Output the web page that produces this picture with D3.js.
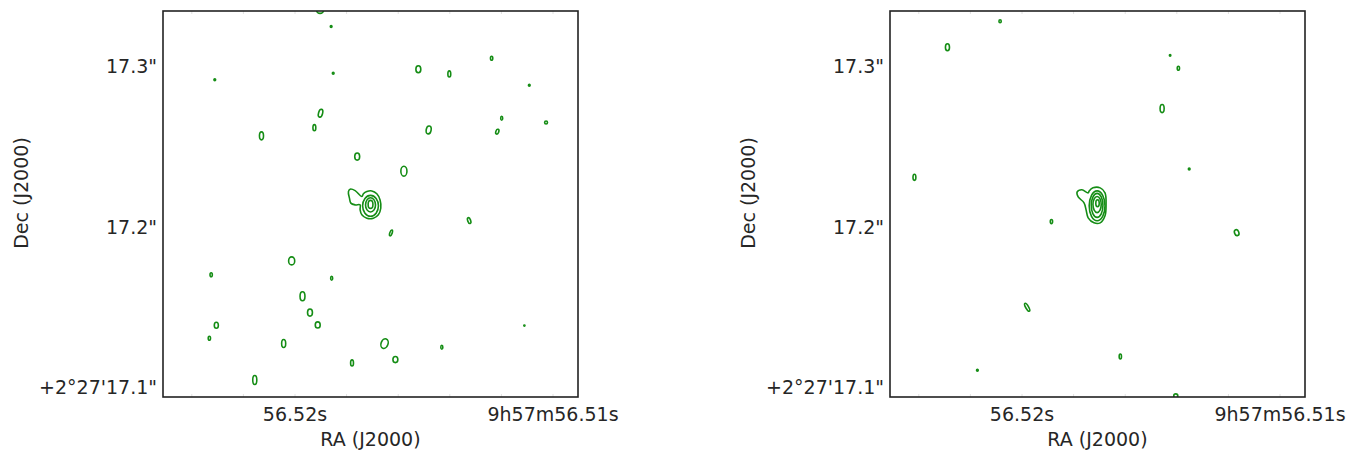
<!DOCTYPE html>
<html><head><meta charset="utf-8">
<script src="https://cdn.jsdelivr.net/npm/d3@7"></script>
<style>
body{margin:0;background:#fff}
svg text{font-family:"DejaVu Sans",sans-serif;fill:#262626}
</style>
</head><body>
<svg id="chart" width="1349" height="453"></svg>
<script>
// ---------------- data ----------------
const raTicks = [56.52, 56.51];
const raTickLabels = ["56.52s", "9h57m56.51s"];
const raMinorStep = 0.002;               // unlabelled RA ticks (s)
const decTicks = [17.3, 17.2, 17.1];
const decTickLabels = ["17.3\"", "17.2\"", "+2°27'17.1\""];
const raExtent = [56.525097, 56.509012]; // RA seconds (9h57m), left→right
const decExtent = [17.0931, 17.3336];    // Dec arcsec (+2°27'), bottom→top
const xTitle = "RA (J2000)";
const yTitle = "Dec (J2000)";

// compact contours: [ra (s), dec ("), semi-axis E-W (mas), semi-axis N-S (mas), tilt (deg)]
const leftSources = [
  [56.51901, 17.3343, 2.1, 2.2, 0],
  [56.51858, 17.3239, 0.5, 0.6, 0],
  [56.52309, 17.2907, 0.5, 0.6, 0],
  [56.51850, 17.2948, 0.5, 0.6, 0],
  [56.51520, 17.2973, 1.43, 2.2, 0],
  [56.51400, 17.2944, 0.84, 1.9, 0],
  [56.51236, 17.3042, 0.67, 1.25, 0],
  [56.51090, 17.2873, 0.5, 0.6, 0],
  [56.51899, 17.2699, 1.18, 2.5, 15],
  [56.51923, 17.2609, 0.84, 1.9, 0],
  [56.52128, 17.2558, 1.18, 2.5, 0],
  [56.51197, 17.2668, 0.59, 1.25, 0],
  [56.51214, 17.2584, 0.84, 1.55, 20],
  [56.51025, 17.2641, 0.84, 0.95, 0],
  [56.51480, 17.2595, 1.43, 2.5, 10],
  [56.51757, 17.2429, 1.43, 2.2, 0],
  [56.51576, 17.2338, 1.77, 3.1, 0],
  [56.51323, 17.2030, 0.84, 1.9, -20],
  [56.51626, 17.1953, 0.67, 1.9, 20],
  [56.52011, 17.1779, 1.77, 2.5, 0],
  [56.52323, 17.1693, 0.67, 1.25, 0],
  [56.51856, 17.1671, 0.59, 1.25, 0],
  [56.51969, 17.1559, 1.43, 2.8, 0],
  [56.51940, 17.1457, 1.43, 2.2, 0],
  [56.51910, 17.1380, 1.43, 1.9, 0],
  [56.52303, 17.1378, 1.18, 1.9, 0],
  [56.52330, 17.1297, 0.67, 1.25, 0],
  [56.52042, 17.1264, 1.18, 2.5, 0],
  [56.51651, 17.1264, 2.02, 3.1, 20],
  [56.51429, 17.1241, 0.59, 1.25, 0],
  [56.51109, 17.1376, 0.34, 0.4, 0],
  [56.51609, 17.1164, 1.43, 1.9, 0],
  [56.51777, 17.1143, 0.84, 1.9, 0],
  [56.52154, 17.1037, 1.18, 2.8, 0]
];
const rightSources = [
  [56.52083, 17.3272, 0.67, 0.95, 0],
  [56.52287, 17.3110, 1.18, 2.2, 0],
  [56.51424, 17.3060, 0.42, 0.5, 0],
  [56.51392, 17.2979, 0.67, 1.25, 0],
  [56.51455, 17.2728, 1.18, 2.5, 0],
  [56.51350, 17.2352, 0.5, 0.6, 0],
  [56.52415, 17.2300, 0.84, 1.9, 0],
  [56.51884, 17.2024, 0.67, 1.25, 0],
  [56.51166, 17.1955, 1.26, 1.9, -20],
  [56.51978, 17.1490, 0.84, 2.8, -30],
  [56.51617, 17.1183, 0.67, 1.55, 0],
  [56.52171, 17.1098, 0.5, 0.6, 0],
  [56.51402, 17.0938, 1.18, 1.25, 0]
];

// central source: reference position, outer contour outline (offsets in mas, +x west, +y north),
// inner contour levels [dx, dy, semi-axis E-W, semi-axis N-S] in mas
const leftCore = [56.51707, 17.2128];
const leftCoreOuter = [[-4.8,5.2],[-8.7,8.9],[-11.6,9.8],[-12.6,8.3],[-12.0,4.2],[-11.2,1.1],[-8.7,0],
  [-5.8,0],[-5.8,-3.1],[-4.8,-6.2],[-1.9,-8.3],[1.9,-8.3],[4.8,-6.2],[6.2,-2.1],[5.8,3.1],[3.9,6.9],
  [1.0,8.7],[-1.9,8.3],[-3.9,6.9]];
const leftCoreLevels = [[0.25,-0.6,4.6,6.5],[0.25,0,2.9,4.4],[0.25,0.3,1.4,2.5]];

const rightCore = [56.51711, 17.2122];
const rightCoreOuter = [[-4.6,8.1],[-8.2,10.0],[-11.0,8.7],[-10.4,5.6],[-7.0,1.9],[-5.8,-2.5],[-4.6,-7.5],
  [-1.2,-10.6],[2.4,-10.6],[5.2,-6.2],[5.8,0.6],[5.2,8.1],[2.4,11.2],[-1.8,11.2],[-4.0,9.3]];
const rightCoreLevels = [[0.6,0,4.6,9.3],[0.6,0.3,3.4,7.5],[0.6,0.8,2.4,5.0],[0.84,1.6,1.0,2.2]];

// ---------------- drawing ----------------
const svg = d3.select("#chart");
const panels = [
  {left:163, sources:leftSources, core:leftCore, outer:leftCoreOuter, levels:leftCoreLevels, id:"a"},
  {left:890, sources:rightSources, core:rightCore, outer:rightCoreOuter, levels:rightCoreLevels, id:"b"}
];
const W = 415, H = 386, topY = 11;
const green = "#158d15";

panels.forEach(p => {
  const g = svg.append("g").attr("transform", `translate(${p.left},${topY})`);
  const x = d3.scaleLinear().domain(raExtent).range([0, W]);
  const y = d3.scaleLinear().domain(decExtent).range([H, 0]);
  const mx = m => m / 15000;  // mas (E-W) -> seconds of RA
  const my = m => m / 1000;   // mas -> arcsec

  g.append("clipPath").attr("id", "clip" + p.id)
    .append("rect").attr("width", W).attr("height", H);
  const plot = g.append("g").attr("clip-path", `url(#clip${p.id})`);

  // very faint unlabelled ticks along the frame
  const minor = d3.range(56.51, 56.5261, raMinorStep);
  const axTop = d3.axisTop(x).tickValues(minor).tickSize(-3).tickFormat("");
  const axBot = d3.axisBottom(x).tickValues(minor).tickSize(-3).tickFormat("");
  [[axTop, 0, 0], [axBot, 0, H]].forEach(([ax, tx, ty]) => {
    const t = plot.append("g").attr("transform", `translate(${tx},${ty})`).call(ax);
    t.select(".domain").remove();
    t.selectAll("line").attr("stroke", "#e2e2e2").attr("stroke-width", 1);
  });

  plot.selectAll("ellipse.src").data(p.sources).join("ellipse")
    .attr("class", "src")
    .attr("cx", d => x(d[0])).attr("cy", d => y(d[1]))
    .attr("rx", d => Math.abs(x(d[0] - mx(d[2])) - x(d[0])))
    .attr("ry", d => Math.abs(y(d[1] + my(d[3])) - y(d[1])))
    .attr("transform", d => `rotate(${d[4]},${x(d[0])},${y(d[1])})`)
    .attr("fill", "none").attr("stroke", green).attr("stroke-width", 1.6);

  const [ra0, dec0] = p.core;
  const line = d3.line()
    .x(d => x(ra0 - mx(d[0])))
    .y(d => y(dec0 + my(d[1])))
    .curve(d3.curveCatmullRomClosed.alpha(0.5));
  plot.append("path").datum(p.outer).attr("d", line)
    .attr("fill", "none").attr("stroke", green).attr("stroke-width", 1.6);
  plot.selectAll("ellipse.lvl").data(p.levels).join("ellipse")
    .attr("class", "lvl")
    .attr("cx", d => x(ra0 - mx(d[0]))).attr("cy", d => y(dec0 + my(d[1])))
    .attr("rx", d => Math.abs(x(ra0 - mx(d[2])) - x(ra0)))
    .attr("ry", d => Math.abs(y(dec0 + my(d[3])) - y(dec0)))
    .attr("fill", "none").attr("stroke", green).attr("stroke-width", 1.6);

  const xAxis = d3.axisBottom(x).tickValues(raTicks)
    .tickFormat((d, i) => raTickLabels[i]).tickSize(0).tickPadding(11);
  const gx = g.append("g").attr("transform", `translate(0,${H})`).call(xAxis);
  gx.select(".domain").remove();
  gx.selectAll("text").attr("font-size", 19).attr("font-family", "DejaVu Sans").attr("fill", "#262626");

  const yAxis = d3.axisLeft(y).tickValues(decTicks)
    .tickFormat((d, i) => decTickLabels[i]).tickSize(0).tickPadding(6);
  const gy = g.append("g").call(yAxis);
  gy.select(".domain").remove();
  gy.selectAll("text").attr("font-size", 19).attr("font-family", "DejaVu Sans")
    .attr("fill", "#262626").attr("dy", "0.4em");

  g.append("rect").attr("width", W).attr("height", H)
    .attr("fill", "none").attr("stroke", "#222").attr("stroke-width", 1.6);

  g.append("text").attr("x", W / 2).attr("y", H + 49).attr("text-anchor", "middle")
    .attr("font-size", 19).text(xTitle);
  g.append("text").attr("transform", `translate(-135,${H / 2 - 11}) rotate(-90)`)
    .attr("text-anchor", "middle").attr("font-size", 19).text(yTitle);
});
</script>
</body></html>
